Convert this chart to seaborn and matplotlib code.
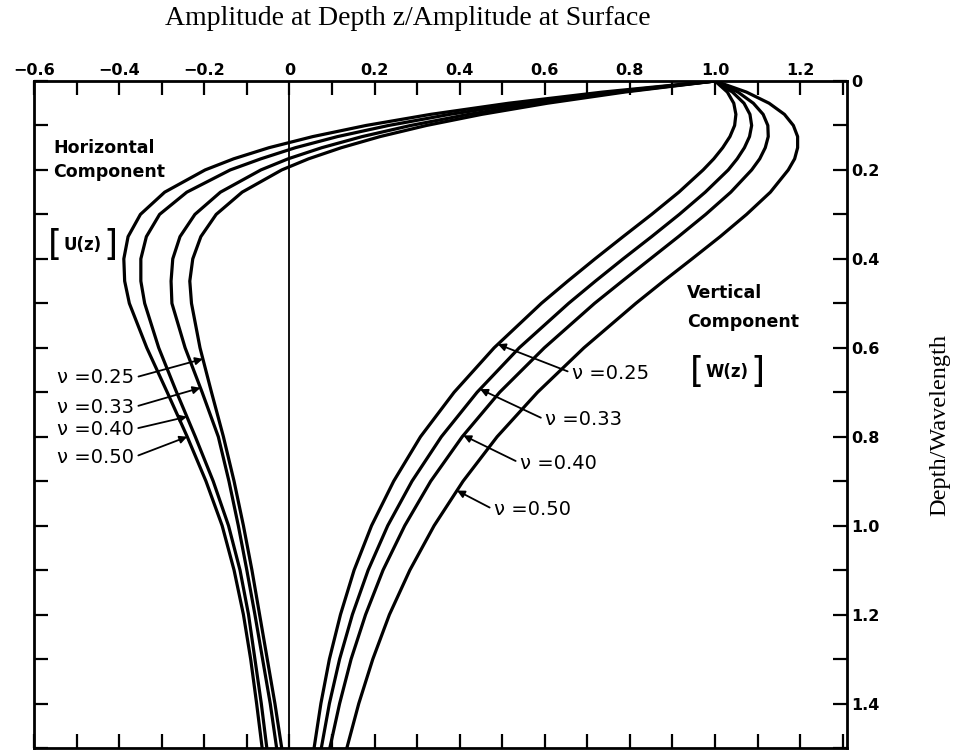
import numpy as np
import pandas as pd
import matplotlib
matplotlib.use("Agg")
import matplotlib.pyplot as plt
from matplotlib.ticker import FixedLocator, FixedFormatter, MultipleLocator
import seaborn as sns

# Depth below the surface, in wavelengths
depth = [0.0, 0.025, 0.05, 0.075, 0.1, 0.125, 0.15, 0.175, 0.2, 0.25, 0.3, 0.35,
         0.4, 0.45, 0.5, 0.6, 0.7, 0.8, 0.9, 1.0, 1.1, 1.2, 1.3, 1.4, 1.5]

# Poisson's ratio of each curve
poisson = ["0.25", "0.33", "0.40", "0.50"]

# Horizontal component U(z), normalised by its surface value
horiz_025 = [1.000, 0.787, 0.606, 0.452, 0.322, 0.213, 0.122, 0.045, -0.018, -0.111, -0.172, -0.208,
             -0.227, -0.234, -0.230, -0.210, -0.183, -0.155, -0.130, -0.108, -0.088, -0.070, -0.052, -0.034, -0.018]
horiz_033 = [1.000, 0.774, 0.582, 0.421, 0.285, 0.171, 0.076, -0.003, -0.067, -0.162, -0.222, -0.257,
             -0.274, -0.278, -0.276, -0.245, -0.205, -0.167, -0.142, -0.120, -0.100, -0.081, -0.063, -0.045, -0.030]
horiz_040 = [1.000, 0.755, 0.549, 0.377, 0.233, 0.113, 0.014, -0.067, -0.139, -0.241, -0.305, -0.336,
             -0.349, -0.349, -0.340, -0.307, -0.265, -0.221, -0.179, -0.143, -0.116, -0.096, -0.081, -0.066, -0.053]
horiz_050 = [1.000, 0.735, 0.515, 0.332, 0.180, 0.055, -0.048, -0.131, -0.198, -0.293, -0.350, -0.379,
             -0.389, -0.387, -0.376, -0.335, -0.287, -0.240, -0.196, -0.158, -0.130, -0.108, -0.091, -0.077, -0.064]

# Vertical component W(z), normalised by its surface value
vert_025 = [1.000, 1.029, 1.044, 1.049, 1.046, 1.035, 1.018, 0.997, 0.972, 0.915, 0.851, 0.784,
            0.718, 0.654, 0.592, 0.481, 0.387, 0.308, 0.245, 0.193, 0.152, 0.120, 0.094, 0.074, 0.058]
vert_033 = [1.000, 1.041, 1.068, 1.082, 1.086, 1.081, 1.069, 1.052, 1.031, 0.977, 0.916, 0.851,
            0.784, 0.719, 0.656, 0.540, 0.441, 0.357, 0.288, 0.231, 0.185, 0.148, 0.118, 0.094, 0.075]
vert_040 = [1.000, 1.054, 1.090, 1.113, 1.124, 1.125, 1.118, 1.105, 1.086, 1.037, 0.978, 0.914,
            0.848, 0.782, 0.717, 0.599, 0.494, 0.406, 0.332, 0.271, 0.220, 0.179, 0.145, 0.118, 0.095]
vert_050 = [1.000, 1.074, 1.127, 1.163, 1.184, 1.194, 1.194, 1.187, 1.172, 1.130, 1.074, 1.012,
            0.946, 0.879, 0.814, 0.692, 0.583, 0.488, 0.408, 0.340, 0.283, 0.235, 0.196, 0.163, 0.135]

# Axis ticks and their labels
x_ticks = [-0.6, -0.4, -0.2, 0.0, 0.2, 0.4, 0.6, 0.8, 1.0, 1.2]
x_tick_labels = ["\u22120.6", "\u22120.4", "\u22120.2", "0", "0.2", "0.4", "0.6", "0.8", "1.0", "1.2"]
y_ticks = [0.0, 0.2, 0.4, 0.6, 0.8, 1.0, 1.2, 1.4]
y_tick_labels = ["0", "0.2", "0.4", "0.6", "0.8", "1.0", "1.2", "1.4"]

# Depth at which each label's arrow meets its curve
u_arrow_depth = [0.625, 0.69, 0.755, 0.80]
w_arrow_depth = [0.592, 0.693, 0.797, 0.921]

horiz = [horiz_025, horiz_033, horiz_040, horiz_050]
vert = [vert_025, vert_033, vert_040, vert_050]

rows = []
for comp, series in (("U", horiz), ("W", vert)):
    for nu, values in zip(poisson, series):
        for z, amp in zip(depth, values):
            rows.append({"component": comp, "nu": nu, "depth": z, "amplitude": amp})
df = pd.DataFrame(rows)
df["curve"] = df["component"] + df["nu"]

sns.set_theme(style="ticks")
plt.rcParams["font.family"] = ["DejaVu Sans"]
for key in ("text.color", "axes.labelcolor", "xtick.color", "ytick.color", "axes.edgecolor"):
    plt.rcParams[key] = "black"

W_PX, H_PX = 956, 751
fig = plt.figure(figsize=(W_PX / 100, H_PX / 100), dpi=100)
ax = fig.add_axes([34 / W_PX, 3 / H_PX, 813 / W_PX, 667 / H_PX])

sns.lineplot(data=df, x="amplitude", y="depth", units="curve", estimator=None,
             sort=False, color="black", linewidth=2.3, legend=False, ax=ax)
ax.axvline(0.0, color="black", linewidth=1.3, zorder=1)

ax.set_xlim(-0.6, 1.31)
ax.set_ylim(1.5, 0.0)
ax.set_xlabel("")
ax.set_ylabel("")

for side in ax.spines.values():
    side.set_linewidth(2.0)
    side.set_color("black")

ax.xaxis.tick_top()
ax.xaxis.set_major_locator(FixedLocator(x_ticks))
ax.xaxis.set_major_formatter(FixedFormatter(x_tick_labels))
ax.xaxis.set_minor_locator(MultipleLocator(0.1))
ax.yaxis.tick_right()
ax.yaxis.set_major_locator(FixedLocator(y_ticks))
ax.yaxis.set_major_formatter(FixedFormatter(y_tick_labels))
ax.yaxis.set_minor_locator(MultipleLocator(0.1))
ax.tick_params(axis="x", which="both", direction="in", top=True, bottom=True,
               labeltop=True, labelbottom=False, length=10, width=1.6, color="black", pad=2)
ax.tick_params(axis="y", which="both", direction="in", left=True, right=True,
               labelright=True, labelleft=False, length=10, width=1.6, color="black", pad=3)
for lab in ax.get_xticklabels() + ax.get_yticklabels():
    lab.set_fontsize(11.5)
    lab.set_fontweight("bold")
    lab.set_color("black")

serif = ["Liberation Serif", "DejaVu Serif"]
fig.text(0.427, 0.976, "Amplitude at Depth z/Amplitude at Surface", ha="center", va="center",
         fontsize=20, family=serif)
fig.text(0.983, 0.434, "Depth/Wavelength", ha="center", va="center", rotation=90,
         fontsize=17.5, family=serif)

# Component captions, with tall brackets around the function names
cap = dict(transform=ax.transAxes, ha="left", va="center")
ax.text(0.024, 0.900, "Horizontal", fontsize=12.5, fontweight="bold", **cap)
ax.text(0.024, 0.864, "Component", fontsize=12.5, fontweight="bold", **cap)
ax.text(0.0172, 0.754, "[", fontsize=26, **cap)
ax.text(0.0357, 0.754, "U(z)", fontsize=12, fontweight="bold", **cap)
ax.text(0.0860, 0.754, "]", fontsize=26, **cap)

ax.text(0.803, 0.682, "Vertical", fontsize=12.5, fontweight="bold", **cap)
ax.text(0.803, 0.639, "Component", fontsize=12.5, fontweight="bold", **cap)
ax.text(0.8070, 0.564, "[", fontsize=26, **cap)
ax.text(0.8260, 0.564, "W(z)", fontsize=12, fontweight="bold", **cap)
ax.text(0.8810, 0.564, "]", fontsize=26, **cap)

arrow = dict(arrowstyle="-|>", color="black", lw=1.3, mutation_scale=11, shrinkA=1, shrinkB=0)

# Labels for the horizontal curves, arrows leaving the right end of the text
u_text_pos = [(0.028, 0.555), (0.028, 0.511), (0.028, 0.478), (0.028, 0.436)]
for nu, series, zt, pos in zip(poisson, horiz, u_arrow_depth, u_text_pos):
    tip = (np.interp(zt, depth, series), zt)
    ax.annotate("\u03bd =" + nu, xy=tip, xycoords="data", xytext=pos, textcoords="axes fraction",
                ha="left", va="center", fontsize=14,
                arrowprops=dict(arrow, relpos=(1.0, 0.5)))

# Labels for the vertical curves, arrows leaving the left end of the text
w_text_pos = [(0.662, 0.562), (0.629, 0.492), (0.598, 0.427), (0.566, 0.357)]
for nu, series, zt, pos in zip(poisson, vert, w_arrow_depth, w_text_pos):
    tip = (np.interp(zt, depth, series), zt)
    ax.annotate("\u03bd =" + nu, xy=tip, xycoords="data", xytext=pos, textcoords="axes fraction",
                ha="left", va="center", fontsize=14,
                arrowprops=dict(arrow, relpos=(0.0, 0.5)))

fig.savefig("out.png", dpi=100, facecolor="white")
